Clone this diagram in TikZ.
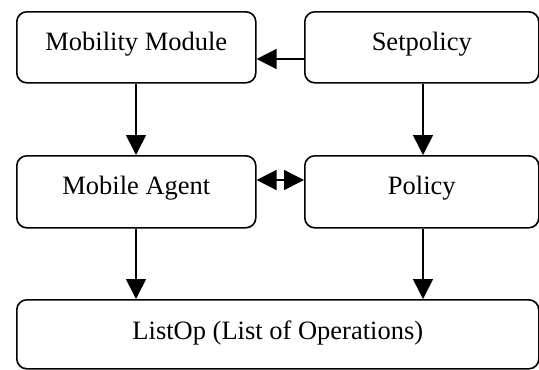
\documentclass[tikz,border=0pt]{standalone}
\usepackage{fontspec}
\setmainfont{Liberation Serif}
\usetikzlibrary{arrows.meta}
\begin{document}
\begin{tikzpicture}[x=1bp,y=-1bp,
  box/.style={draw, line width=1.6bp, rounded corners=10bp, anchor=north west,
    inner xsep=0pt, inner ysep=0pt, text height=39bp, text depth=32bp,
    font=\fontsize{26.5bp}{30bp}\selectfont},
  conn/.style={line width=1.6bp, -{Triangle[length=20bp,width=20bp]}},
  dconn/.style={line width=1.6bp, {Triangle[length=20bp,width=20bp]}-{Triangle[length=20bp,width=20bp]}}]
\useasboundingbox (0,0) rectangle (539,369);
\node[box, minimum width=239bp] (mm) at (16,11) {Mobility Module};
\node[box, minimum width=234bp] (sp) at (304,11) {Setpolicy};
\node[box, minimum width=239bp, text depth=33bp] (ma) at (16,155) {Mobile Agent};
\node[box, minimum width=234bp, text depth=33bp] (po) at (304,155) {Policy};
\node[box, minimum width=522bp, text height=40bp, text depth=29bp] (lo) at (16,299) {ListOp (List of Operations)};
\draw[conn] (sp.west |- 0,59) -- (mm.east |- 0,59);
\draw[conn] (mm.south -| 136,0) -- (ma.north -| 136,0);
\draw[conn] (sp.south -| 423,0) -- (po.north -| 423,0);
\draw[dconn] (ma.east |- 0,180) -- (po.west |- 0,180);
\draw[conn] (ma.south -| 136,0) -- (lo.north -| 136,0);
\draw[conn] (po.south -| 423,0) -- (lo.north -| 423,0);
\end{tikzpicture}
\end{document}
